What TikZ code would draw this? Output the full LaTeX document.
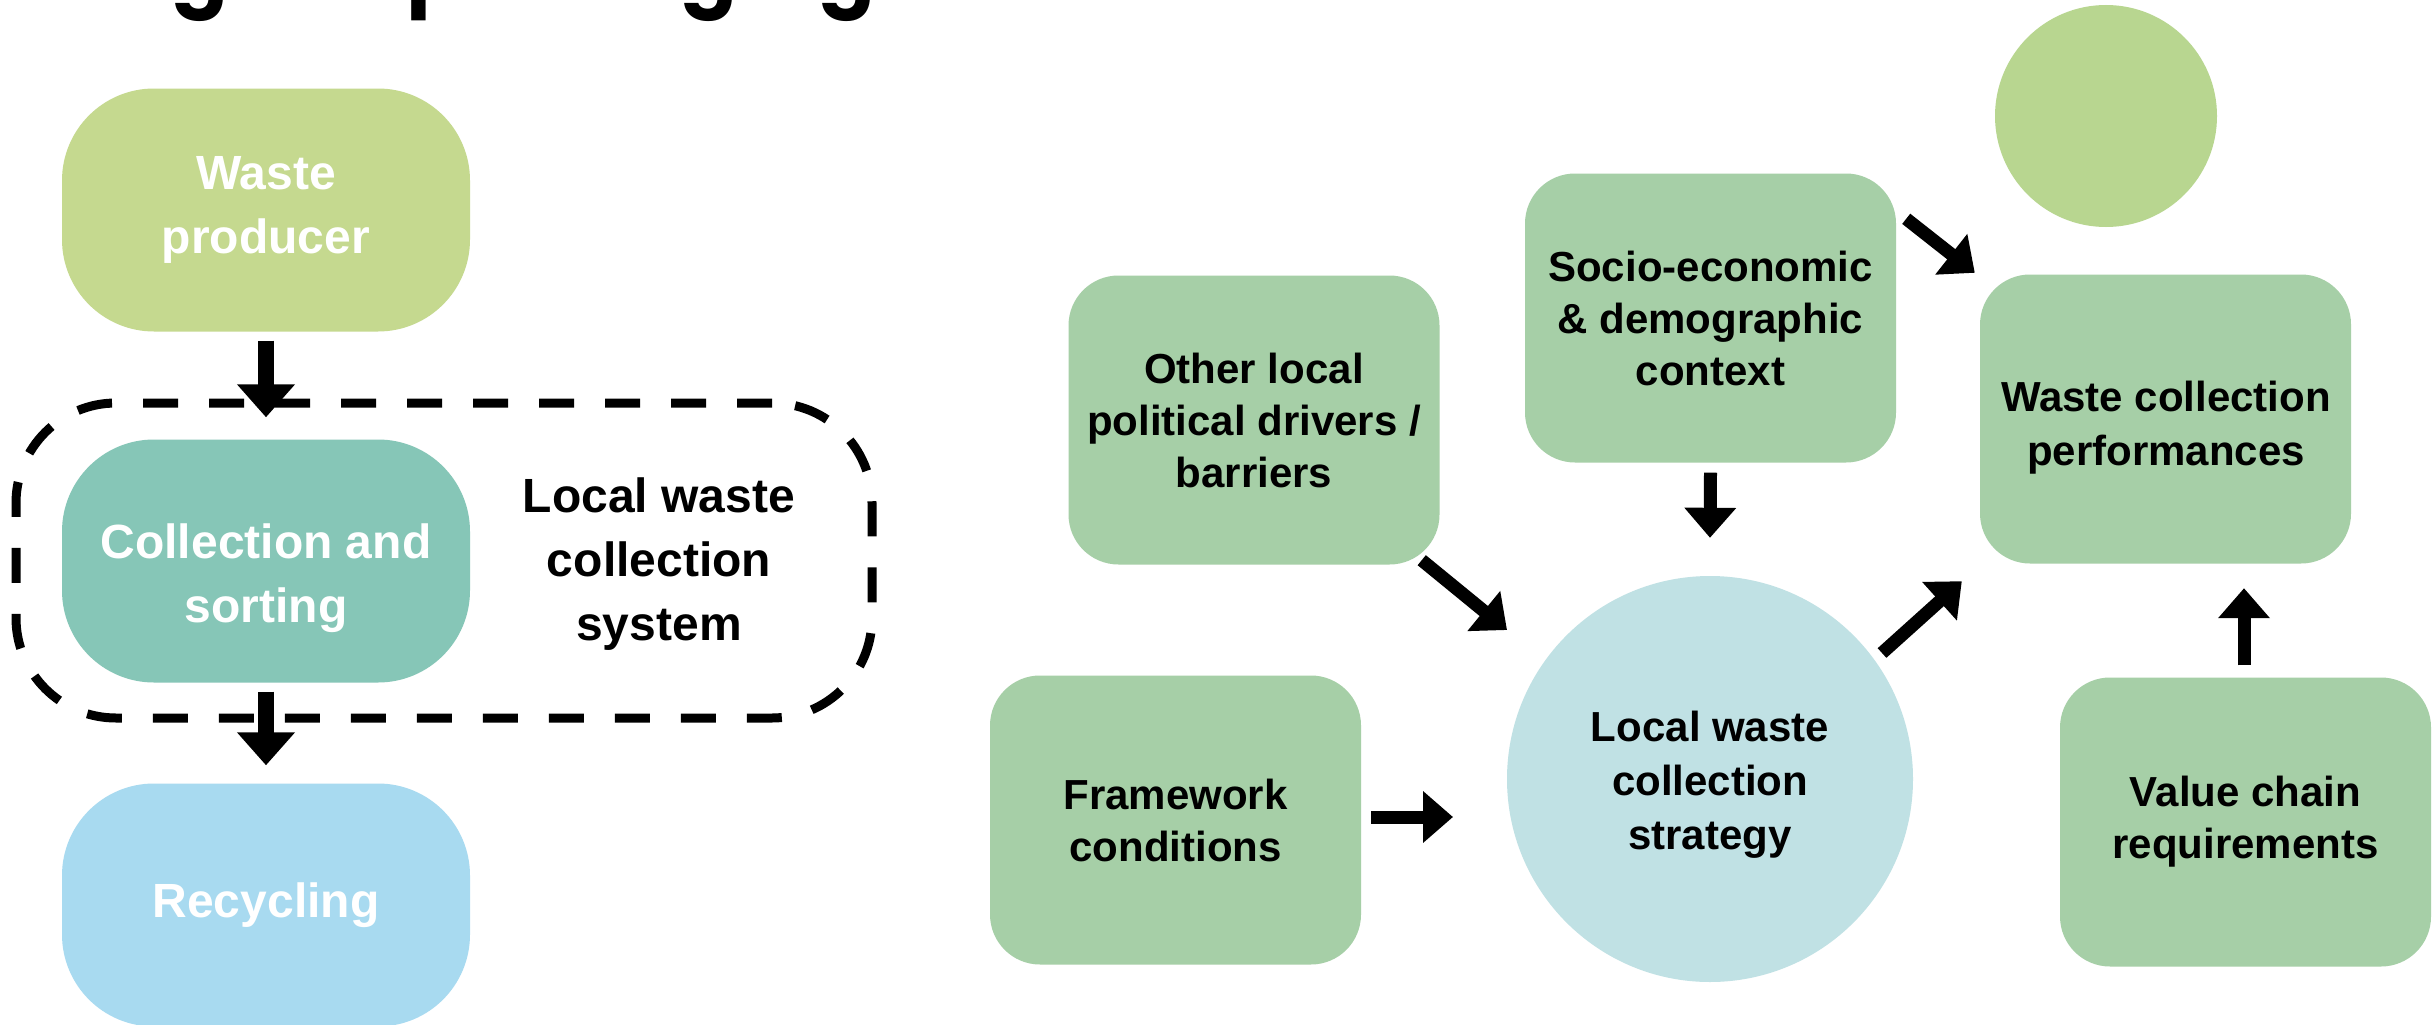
\documentclass[tikz,border=0pt]{standalone}
\usepackage{fontspec}
\setmainfont{Liberation Sans}
\newfontfamily\titlefont{Poppins}
\usetikzlibrary{arrows.meta}
\definecolor{wpgreen}{HTML}{C5D98F}
\definecolor{csteal}{HTML}{86C6B7}
\definecolor{rcblue}{HTML}{A8DAF0}
\definecolor{boxgreen}{HTML}{A6CFA7}
\definecolor{circblue}{HTML}{C0E1E4}
\definecolor{topgreen}{HTML}{B8D690}
\begin{document}
\begin{tikzpicture}[x=1pt,y=-1pt,
  lbox/.style={rectangle, rounded corners=92pt, minimum width=408pt, minimum height=243pt, inner sep=0pt, align=center, text=white, font=\fontsize{48}{64}\selectfont\bfseries},
  rbox/.style={rectangle, rounded corners=50pt, minimum width=371pt, minimum height=289pt, inner sep=0pt, fill=boxgreen, align=center, font=\fontsize{42}{52}\selectfont\bfseries},
  circ/.style={circle, inner sep=0pt, align=center},
  arrL/.style={line width=16pt, -{Triangle[width=56pt,length=33pt]}},
  arrR/.style={line width=13pt, -{Triangle[width=50pt,length=30pt]}},
  group/.style={rectangle, draw=black, line width=9pt, dash pattern=on 35pt off 31pt, rounded corners=100pt, minimum width=856pt, minimum height=315pt, inner sep=0pt},
  lbl/.style={align=center, font=\fontsize{48}{64}\selectfont\bfseries}
]
\clip (0,0) rectangle (2433,1025);
\fill[white] (0,0) rectangle (2433,1025);
% cut-off heading
\node[anchor=base west, inner sep=0pt, font=\titlefont\fontsize{84}{100}\selectfont\bfseries] (title) at (406,-1) {\llap{Improving the }packaging collection};

% left column
\node[group] (sys) at (444,560.5) {};
\node[lbox, fill=wpgreen] (wp) at (266,210) {Waste\\producer};
\node[lbox, fill=csteal] (cs) at (266,561) {};
\node[lbl, text=white] (cst) at (266,578) {Collection and\\sorting};
\node[lbox, fill=rcblue] (rc) at (266,905) {Recycling};
\node[lbl] (sysl) at (659,564) {Local waste\\collection\\system};
\draw[arrL] ([yshift=-9pt]wp.south) -- ([yshift=22pt]cs.north);
\draw[arrL] ([yshift=-9pt]cs.south) -- ([yshift=18pt]rc.north);

% right part
\node[circ, fill=topgreen, minimum size=222pt] (topc) at (2106,116) {};
\node[rbox] (ol) at (1254,420) {Other local\\political drivers /\\barriers};
\node[rbox] (se) at (1710.5,318) {Socio-economic\\\& demographic\\context};
\node[rbox] (wcp) at (2165.5,419) {};
\node[align=center, font=\fontsize{42}{54}\selectfont\bfseries] (wcpt) at (2166,428) {Waste collection\\performances};
\node[rbox] (fw) at (1175.5,820) {Framework\\conditions};
\node[rbox] (vc) at (2245.5,822) {Value chain\\requirements};
\node[circ, fill=circblue, minimum size=406pt] (lwcs) at (1710,779) {};
\node[align=center, font=\fontsize{42}{54}\selectfont\bfseries] (lwcst) at (1710,785) {Local waste\\collection\\strategy};

\draw[arrR] ([shift={(-18,-4.5)}]ol.south east) -- ([shift={(-203,-149)}]lwcs.center);
\draw[arrR] ([shift={(0,10)}]se.south) -- ([shift={(0,-38)}]lwcs.north);
\draw[arrR] ([shift={(172,-126)}]lwcs.center) -- ([shift={(-18,17.5)}]wcp.south west);
\draw[arrR] ([shift={(10,45.5)}]se.north east) -- ([shift={(-5,-1.5)}]wcp.north west);
\draw[arrR] ([shift={(10,-3)}]fw.east) -- ([shift={(-257,38)}]lwcs.center);
\draw[arrR] ([shift={(-1.5,-12)}]vc.north) -- ([shift={(78.5,24.5)}]wcp.south);
\end{tikzpicture}
\end{document}
